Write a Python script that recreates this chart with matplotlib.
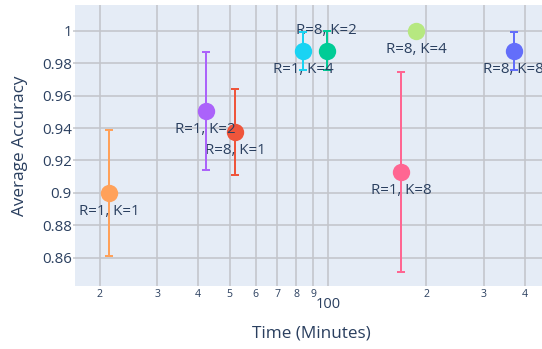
import matplotlib
matplotlib.use("Agg")
import matplotlib.pyplot as plt
from matplotlib.ticker import FixedLocator, FixedFormatter

# Run configurations (one trace each)
labels = ["R=8, K=8", "R=8, K=1", "R=8, K=2", "R=1, K=2",
          "R=1, K=1", "R=1, K=4", "R=1, K=8", "R=8, K=4"]
time_minutes = [370.4, 51.9, 99.1, 42.2, 21.4, 84.0, 167.3, 186.4]
avg_accuracy = [0.9878, 0.9376, 0.9878, 0.9506, 0.9000, 0.9878, 0.9129, 1.0000]
accuracy_err = [0.0118, 0.0263, 0.0120, 0.0362, 0.0389, 0.0118, 0.0616, 0.0]
colors = ["#636EFA", "#EF553B", "#00CC96", "#AB63FA",
          "#FFA15A", "#19D3F3", "#FF6692", "#B6E880"]
text_pos = ["bottom", "bottom", "top", "bottom",
            "bottom", "bottom", "bottom", "bottom"]

major_x = [100]
major_x_labels = ["100"]
minor_x = [20, 30, 40, 50, 60, 70, 80, 90, 200, 300, 400]
minor_x_labels = ["2", "3", "4", "5", "6", "7", "8", "9", "2", "3", "4"]
y_ticks = [0.86, 0.88, 0.90, 0.92, 0.94, 0.96, 0.98, 1.00]
y_tick_labels = ["0.86", "0.88", "0.9", "0.92", "0.94", "0.96", "0.98", "1"]

FONT = "Open Sans"
INK = "#2A3F5F"
GRID = "#C3C5CB"
PX = 72 / 100  # points per pixel at dpi=100

plt.rcParams["font.family"] = [FONT, "DejaVu Sans"]

fig = plt.figure(figsize=(5.42, 3.49), dpi=100)
ax = fig.add_axes([75 / 542, 1 - 285.7 / 349, 476 / 542, 280.7 / 349])
ax.set_facecolor("#E5ECF6")
for s in ax.spines.values():
    s.set_visible(False)

ax.set_xscale("log")
ax.set_xlim(10 ** 1.2253, 10 ** 2.6827)
ax.set_ylim(0.8427, 1.016)

for i in range(len(labels)):
    if accuracy_err[i] > 0:
        ax.errorbar(time_minutes[i], avg_accuracy[i], yerr=accuracy_err[i],
                    fmt="none", ecolor=colors[i], elinewidth=2 * PX,
                    capsize=4 * PX, capthick=2 * PX, zorder=3 + i)
    ax.plot(time_minutes[i], avg_accuracy[i], "o", color=colors[i],
            ms=12.5, mew=0, zorder=3 + i)
    dy = -19 if text_pos[i] == "bottom" else 20
    ax.annotate(labels[i], (time_minutes[i], avg_accuracy[i]),
                xytext=(0, dy * PX), textcoords="offset points",
                ha="center", va="center", fontsize=10.8, color=INK,
                zorder=3 + i, annotation_clip=False)

ax.xaxis.set_major_locator(FixedLocator(major_x))
ax.xaxis.set_major_formatter(FixedFormatter(major_x_labels))
ax.xaxis.set_minor_locator(FixedLocator(minor_x))
ax.xaxis.set_minor_formatter(FixedFormatter(minor_x_labels))
ax.tick_params(axis="x", which="major", length=0, pad=8, labelsize=10.5, labelcolor=INK)
ax.tick_params(axis="x", which="minor", length=0, pad=2.5, labelsize=7.6, labelcolor=INK)

ax.set_yticks(y_ticks)
ax.set_yticklabels(y_tick_labels)
ax.tick_params(axis="y", length=2.5 * PX, width=1.5 * PX, color=GRID, pad=0.5,
               labelsize=10.8, labelcolor=INK)

ax.grid(True, which="both", axis="x", color=GRID, lw=1.6 * PX, zorder=0)
ax.grid(True, which="major", axis="y", color=GRID, lw=1.6 * PX, zorder=0)
ax.set_axisbelow(True)

ax.set_xlabel("Time (Minutes)", fontsize=12.3, color=INK)
ax.xaxis.label.set_va("center")
ax.xaxis.set_label_coords(0.4968, -(333 - 285.7) / 280.7)
ax.set_ylabel("Average Accuracy", fontsize=12.3, color=INK)
ax.yaxis.label.set_va("center")
ax.yaxis.set_label_coords((20 - 75) / 476, 0.5)

fig.savefig("out.png", dpi=100)
